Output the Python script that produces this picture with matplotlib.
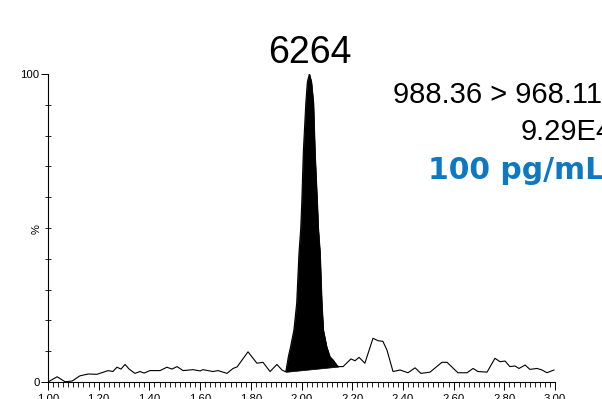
"""MRM chromatogram of the 100 pg/mL standard (988.36 > 968.11)."""

import matplotlib

matplotlib.use("Agg")

import matplotlib.pyplot as plt
from matplotlib.ticker import FixedLocator, MultipleLocator, FormatStrFormatter
import numpy as np

plt.rcParams["font.family"] = ["Liberation Sans", "DejaVu Sans"]

# retention time (min) and relative intensity (%)
BEFORE_T = [1.000, 1.036, 1.067, 1.095, 1.126, 1.158, 1.193, 1.237, 1.256, 1.272,
            1.288, 1.304, 1.320, 1.343, 1.363, 1.379, 1.402, 1.442, 1.469, 1.489,
            1.509, 1.533, 1.572, 1.600, 1.611, 1.651, 1.671, 1.706, 1.730, 1.746,
            1.789, 1.824, 1.848, 1.876, 1.903, 1.923, 1.938]
BEFORE_I = [0.0, 1.7, 0.1, 0.3, 2.0, 2.6, 2.5, 3.7, 3.4, 4.8,
            4.2, 5.7, 4.2, 2.8, 3.4, 2.9, 3.7, 3.7, 4.8, 4.2,
            5.0, 3.7, 4.0, 3.6, 4.0, 3.4, 3.7, 2.8, 4.4, 4.9,
            9.8, 6.1, 6.4, 3.4, 5.7, 3.9, 3.3]

PEAK_T = [1.938, 1.948, 1.957, 1.970, 1.981, 1.990, 1.997, 2.001, 2.007, 2.017,
          2.023, 2.031, 2.039, 2.047, 2.053, 2.062, 2.066, 2.073, 2.080, 2.086,
          2.099, 2.112, 2.125, 2.139, 2.145]
PEAK_I = [3.3, 8.2, 11.5, 16.9, 25.6, 41.9, 50.0, 58.1, 74.4, 90.6,
          97.4, 100.0, 97.4, 90.6, 74.4, 58.1, 50.0, 41.9, 25.6, 16.9,
          11.5, 8.2, 7.1, 5.5, 5.0]

AFTER_T = [2.145, 2.164, 2.195, 2.211, 2.227, 2.250, 2.282, 2.302, 2.321, 2.337,
           2.361, 2.389, 2.420, 2.448, 2.471, 2.507, 2.554, 2.574, 2.617, 2.653,
           2.677, 2.696, 2.732, 2.763, 2.783, 2.803, 2.822, 2.842, 2.858, 2.882,
           2.901, 2.929, 2.949, 2.968, 2.996]
AFTER_I = [5.0, 5.0, 7.5, 6.9, 8.0, 6.1, 14.2, 13.4, 13.2, 10.4,
           3.4, 3.9, 3.0, 4.6, 2.8, 3.2, 6.4, 6.4, 3.0, 3.0,
           4.4, 3.4, 3.2, 7.7, 6.6, 6.8, 5.0, 5.2, 4.4, 5.5,
           4.1, 4.4, 3.9, 3.0, 3.9]

# integration baseline under the peak
BASELINE_T = [1.938, 2.145]
BASELINE_I = [3.3, 5.0]

PEAK_AREA = "6264"
TRANSITION = "988.36 > 968.11"
MAX_COUNTS = "9.29E4"
LEVEL = "100 pg/mL"

W, H = 602, 399


def fx(px):
    return px / W


def fy(py):
    return 1 - py / H


def main():
    fig = plt.figure(figsize=(W / 100, H / 100), dpi=100, facecolor="white")
    ax = fig.add_axes([fx(48), fy(382), (555 - 48) / W, (382 - 74) / H])

    trace_t = BEFORE_T + PEAK_T[1:] + AFTER_T[1:]
    trace_i = BEFORE_I + PEAK_I[1:] + AFTER_I[1:]
    ax.plot(trace_t, trace_i, color="black", linewidth=0.8)
    base = np.interp(PEAK_T, BASELINE_T, BASELINE_I)
    ax.fill_between(PEAK_T, PEAK_I, base, color="black", linewidth=0.5)

    ax.set_xlim(1.0, 3.0)
    ax.set_ylim(0, 100)
    ax.spines["top"].set_visible(False)
    ax.spines["right"].set_visible(False)
    for s in ("left", "bottom"):
        ax.spines[s].set_linewidth(0.8)

    ax.xaxis.set_major_locator(MultipleLocator(0.2))
    ax.xaxis.set_minor_locator(MultipleLocator(0.02))
    ax.xaxis.set_major_formatter(FormatStrFormatter("%.2f"))
    ax.yaxis.set_major_locator(FixedLocator([0, 100]))
    ax.yaxis.set_minor_locator(MultipleLocator(10))
    ax.tick_params(axis="x", which="major", length=6, width=0.7, labelsize=8.2, pad=2.5)
    ax.tick_params(axis="x", which="minor", length=3.5, width=0.6)
    ax.tick_params(axis="y", which="major", length=5, width=0.7, labelsize=8.2, pad=1)
    ax.tick_params(axis="y", which="minor", length=4, width=0.6, direction="inout")

    fig.text(fx(37), fy(229), "%", rotation=90, fontsize=8, ha="center", va="center")
    fig.text(fx(310), fy(63), PEAK_AREA, fontsize=27, ha="center", va="baseline")
    fig.text(fx(393), fy(103), TRANSITION, fontsize=21, ha="left", va="baseline")
    fig.text(fx(521), fy(140), MAX_COUNTS, fontsize=21, ha="left", va="baseline")
    fig.text(fx(428), fy(179), LEVEL, fontsize=21.5, fontweight="bold", color="#0E78C2",
             family=["DejaVu Sans"], ha="left", va="baseline")

    fig.savefig("out.png", dpi=100, facecolor="white")
    plt.close(fig)


if __name__ == "__main__":
    main()
